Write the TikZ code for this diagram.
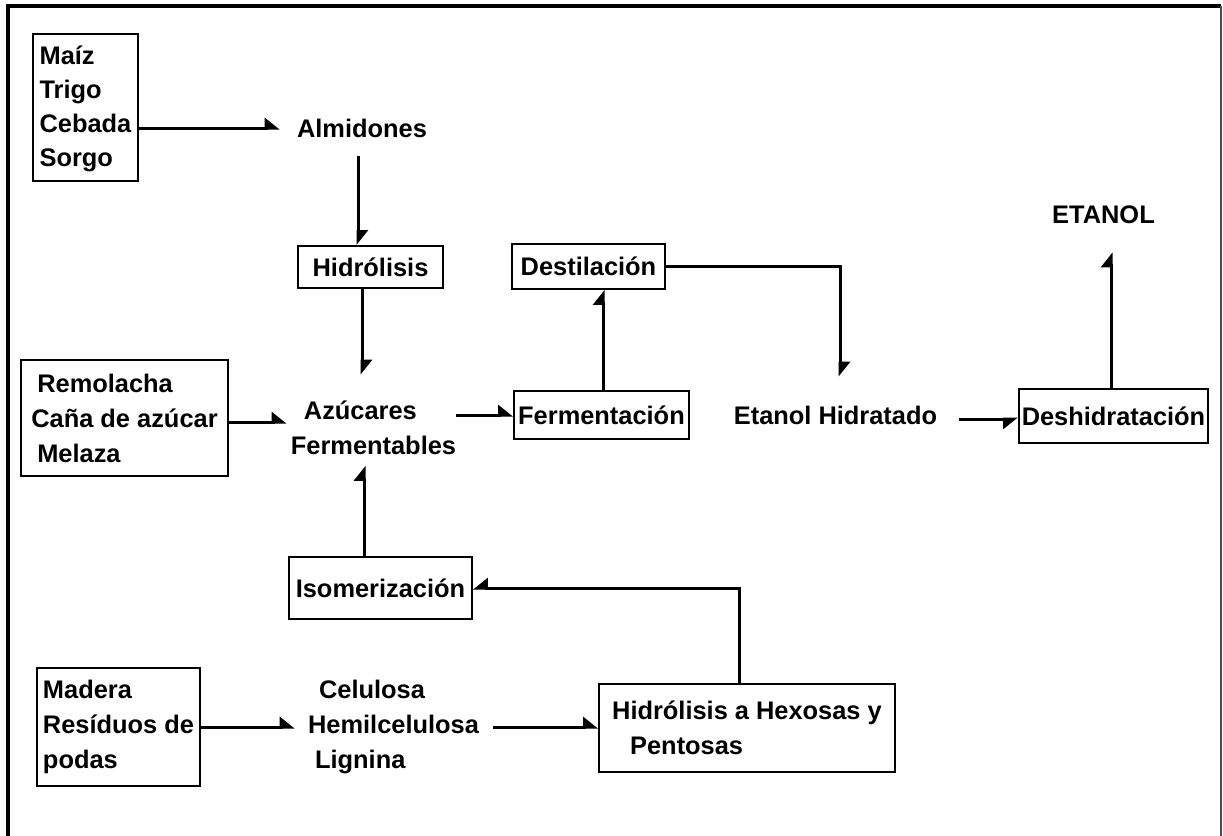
\documentclass[tikz,border=0pt]{standalone}
\usepackage{fontspec}
\setmainfont{Liberation Sans}
\usetikzlibrary{arrows.meta}

\tikzset{
  caja/.style={draw, line width=1pt, inner sep=0pt, align=center},
  lista/.style={caja, align=left},
  texto/.style={inner sep=0pt, align=left},
  flujo/.style={line width=1.5pt, -{Stealth[harpoon, inset=0pt, length=6.5pt, width=10pt]}},
  flujoinv/.style={line width=1.5pt, -{Stealth[harpoon, swap, inset=0pt, length=6.5pt, width=10pt]}},
}

\begin{document}
\begin{tikzpicture}[x=0.5pt,y=-0.5pt,
  every node/.append style={font=\bfseries\fontsize{12.7}{17.5}\selectfont}]
\useasboundingbox (0,0) rectangle (1223,836);

% marco
\draw[line width=2pt] (8,850) -- (8,6) -- (1221,6);
\draw[line width=1pt, black!70] (1221,6) -- (1221,850);

% materias primas
\node[lista, minimum width=52.5pt, minimum height=73.5pt, font=\bfseries\fontsize{12.7}{17}\selectfont] (grano) at (85.5,107.5) {\rule{0pt}{11pt}Maíz\\Trigo\\Cebada\\Sorgo};
\node[lista, minimum width=103.5pt, minimum height=58pt] (remol) at (124.5,418) {\hspace*{3pt}Remolacha\\Caña de azúcar\\\hspace*{3pt}Melaza};
\node[lista, minimum width=81.5pt, minimum height=59pt] (madera) at (118.5,727) {Madera\\Resíduos de\\podas};

% productos intermedios
\node[texto] (almid) at (362,128) {Almidones};
\node[texto] (azuc) at (373.5,428) {\hspace*{6.5pt}Azúcares\\Fermentables};
\node[texto] (celul) at (393.5,727) {\hspace*{5.5pt}Celulosa\\Hemilcelulosa\\\hspace*{3.5pt}Lignina};
\node[texto] (etanolh) at (835.5,415) {Etanol Hidratado};
\node[texto] (etanol) at (1103.5,215) {ETANOL};

% procesos
\node[caja, minimum width=72.5pt, minimum height=21pt] (hidro) at (370.5,267) {Hidrólisis};
\node[caja, minimum width=91.5pt, minimum height=31pt] (isom) at (380.5,588) {Isomerización};
\node[caja, minimum width=87.5pt, minimum height=24pt] (ferm) at (601.5,415) {Fermentación};
\node[caja, minimum width=76.5pt, minimum height=22.5pt] (destil) at (588.5,266.5) {Destilación};
\node[caja, minimum width=94.5pt, minimum height=27pt] (deshid) at (1113.5,416) {Deshidratación};
\node[lista, minimum width=148pt, minimum height=44pt] (hexos) at (747,728) {Hidrólisis a Hexosas y\\\hspace*{9pt}Pentosas};

% flechas
\draw[flujo, shorten >=8.5pt] (grano.east |- almid) -- (almid.west);
\draw[flujo, shorten <=9pt] ([xshift=-2pt]almid.south) -- ([xshift=-2pt]almid.south |- hidro.north);
\draw[flujo, shorten >=13pt] ([xshift=-4.25pt]hidro.south) -- ([xshift=-4.25pt]hidro.south |- azuc.north);
\draw[flujo, shorten >=2pt] ([yshift=-2pt]remol.east) -- ([yshift=-2pt]remol.east -| azuc.west);
\draw[flujo] (azuc.east |- ferm.west) -- (ferm.west);
\draw[flujo] ([xshift=0.75pt]ferm.north) -- ([xshift=0.75pt]ferm.north |- destil.south);
\draw[flujo, shorten >=14.3pt] (destil.east) -| ([xshift=2.25pt]etanolh.north);
\draw[flujoinv, shorten <=10.5pt] ([yshift=-2pt]etanolh.east) -- ([yshift=-2pt]etanolh.east -| deshid.west);
\draw[flujo, shorten >=14pt] ([xshift=-1.25pt]deshid.north) -- ([xshift=-1.25pt]deshid.north |- etanol.south);
\draw[flujo, shorten >=5.25pt] ([xshift=-8.25pt]isom.north) -- ([xshift=-8.25pt]isom.north |- azuc.south);
\draw[flujoinv] ([xshift=-4pt]hexos.north) |- (isom.east);
\draw[flujo, shorten >=6.5pt] (madera.east) -- (madera.east -| celul.west);
\draw[flujo, shorten <=7pt] (celul.east) -- (celul.east -| hexos.west);
\end{tikzpicture}
\end{document}
